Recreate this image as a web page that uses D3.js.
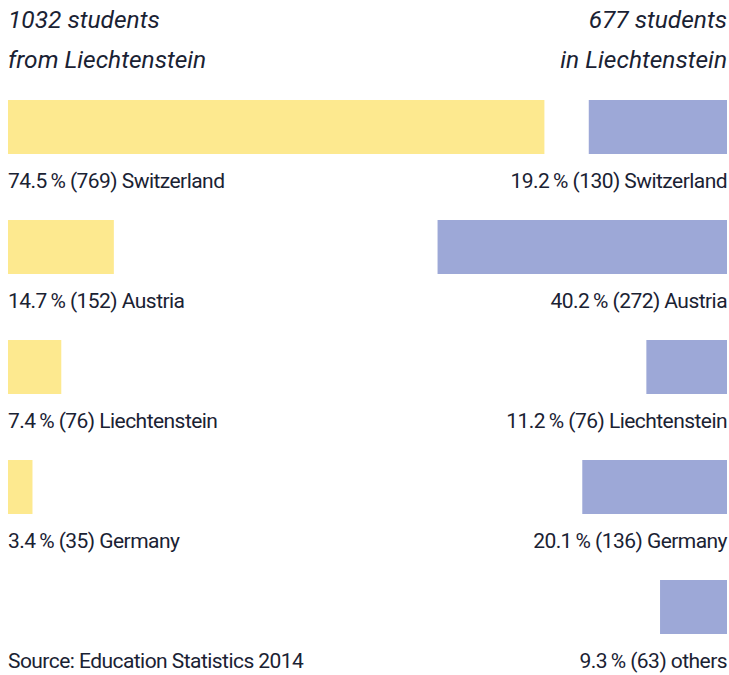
<!DOCTYPE html>
<html>
<head>
<meta charset="utf-8">
<script src="https://cdn.jsdelivr.net/npm/d3@7"></script>
<style>
  body { margin: 0; background: #fff; }
  svg text { font-family: Roboto, "Noto Sans", sans-serif; fill: #1a2233; }
</style>
</head>
<body>
<svg width="729" height="675"></svg>
<script>
// data
var countriesFrom = ["Switzerland", "Austria", "Liechtenstein", "Germany"];
var pctFrom = [74.5, 14.7, 7.4, 3.4];
var countFrom = [769, 152, 76, 35];

var countriesIn = ["Switzerland", "Austria", "Liechtenstein", "Germany", "others"];
var pctIn = [19.2, 40.2, 11.2, 20.1, 9.3];
var countIn = [130, 272, 76, 136, 63];

var titleFrom = ["1032 students", "from Liechtenstein"];
var titleIn = ["677 students", "in Liechtenstein"];
var source = "Source: Education Statistics 2014";

var svg = d3.select("svg");

var x = d3.scaleLinear().domain([0, 100]).range([0, 720]);
var y = d3.scaleBand().domain(d3.range(5)).range([100, 700]).paddingInner(0);

var rowsFrom = countriesFrom.map((c, i) => ({ name: c, pct: pctFrom[i], n: countFrom[i], i: i }));
var rowsIn = countriesIn.map((c, i) => ({ name: c, pct: pctIn[i], n: countIn[i], i: i }));

function fmt(d) {
    return d.pct.toFixed(1) + "\u2009% (" + d.n + ") " + d.name;
}

// titles
svg.append("g")
    .selectAll("text")
    .data(titleFrom)
    .enter()
    .append("text")
    .attr("x", 8)
    .attr("y", (d, i) => 28 + i * 40)
    .style("font-style", "italic")
    .style("font-size", "24.5px")
    .text(d => d);

svg.append("g")
    .selectAll("text")
    .data(titleIn)
    .enter()
    .append("text")
    .attr("x", 727)
    .attr("y", (d, i) => 28 + i * 40)
    .attr("text-anchor", "end")
    .style("font-style", "italic")
    .style("font-size", "24.5px")
    .text(d => d);

// left bars
svg.append("g")
    .selectAll("rect")
    .data(rowsFrom)
    .enter()
    .append("rect")
    .attr("x", 8)
    .attr("y", d => y(d.i))
    .attr("width", d => x(d.pct))
    .attr("height", 54)
    .attr("fill", "#fde98f");

// right bars
svg.append("g")
    .selectAll("rect")
    .data(rowsIn)
    .enter()
    .append("rect")
    .attr("x", d => 727 - x(d.pct))
    .attr("y", d => y(d.i))
    .attr("width", d => x(d.pct))
    .attr("height", 54)
    .attr("fill", "#9da8d7");

// labels
svg.append("g")
    .selectAll("text")
    .data(rowsFrom)
    .enter()
    .append("text")
    .attr("x", 8)
    .attr("y", d => y(d.i) + 88)
    .style("font-size", "21px")
    .style("letter-spacing", "-0.55px")
    .text(fmt);

svg.append("g")
    .selectAll("text")
    .data(rowsIn)
    .enter()
    .append("text")
    .attr("x", 727)
    .attr("y", d => y(d.i) + 88)
    .attr("text-anchor", "end")
    .style("font-size", "21px")
    .style("letter-spacing", "-0.55px")
    .text(fmt);

svg.append("text")
    .attr("x", 8)
    .attr("y", y(4) + 88)
    .style("font-size", "21px")
    .style("letter-spacing", "-0.55px")
    .text(source);
</script>
</body>
</html>
